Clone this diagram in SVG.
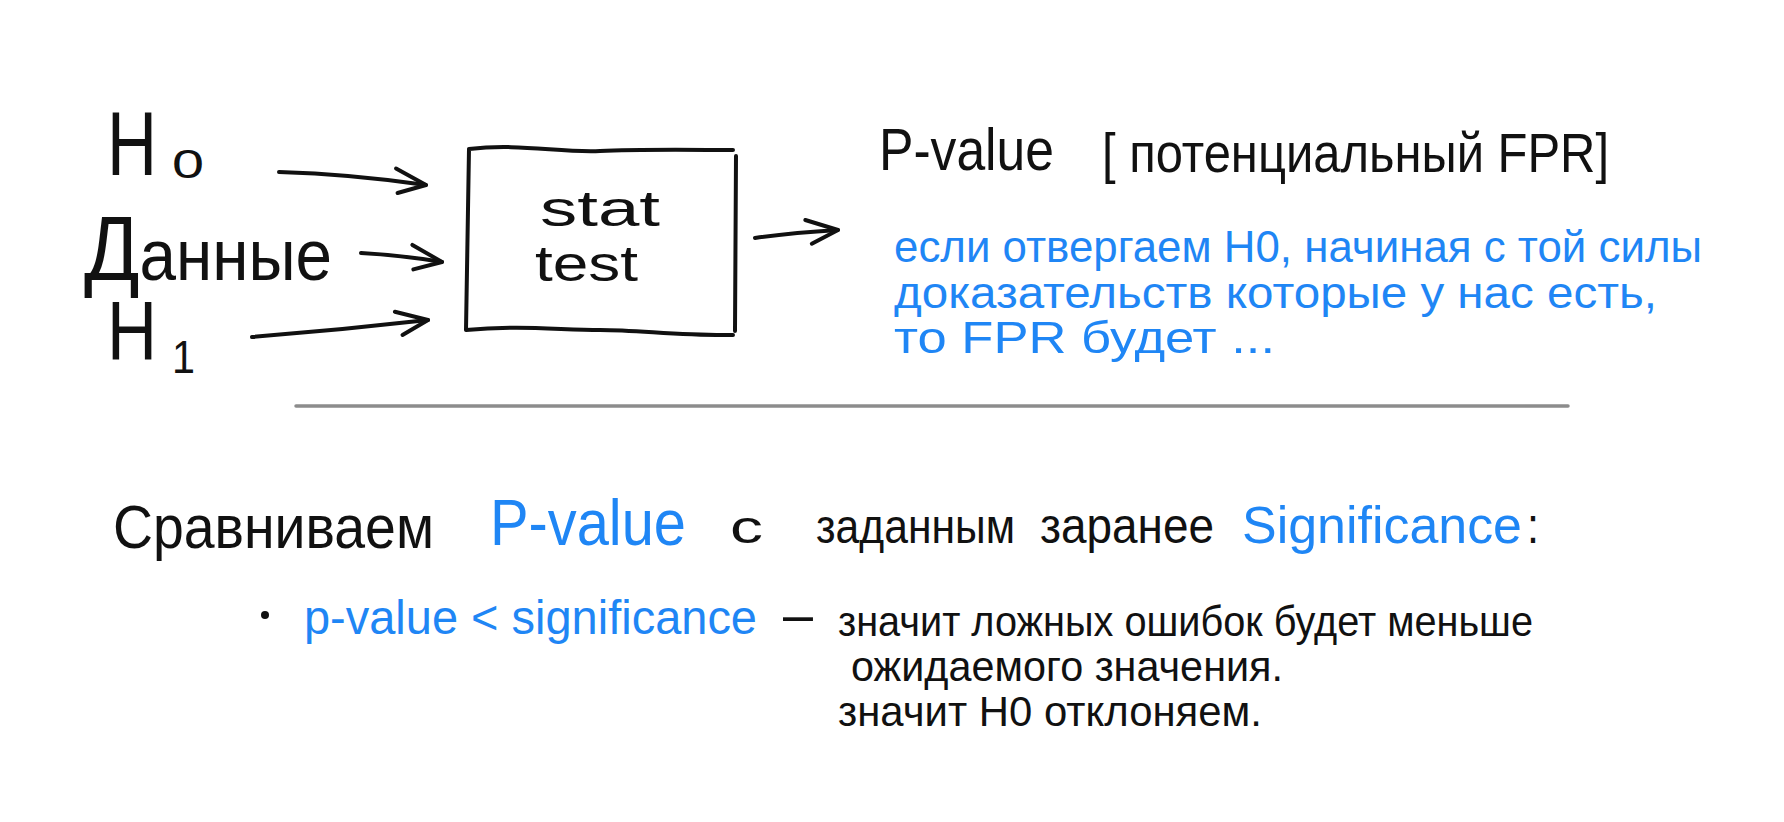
<svg xmlns="http://www.w3.org/2000/svg" width="1784" height="822" viewBox="0 0 1784 822">
<defs>
<style>
text{font-family:"Liberation Sans",Arial,sans-serif;}
.k{fill:#111;}
.b{fill:#1f86f5;}
.ln{fill:none;stroke:#111;stroke-width:4;stroke-linecap:round;stroke-linejoin:round;}
</style>
<marker id="ah" markerUnits="userSpaceOnUse" viewBox="-36 -18 40 36" refX="0" refY="0" markerWidth="40" markerHeight="36" orient="auto">
<path d="M-32,-12 L0,0 L-27,12" fill="none" stroke="#111" stroke-width="4" stroke-linecap="round" stroke-linejoin="round"/>
</marker>
</defs>
<rect width="1784" height="822" fill="#fff"/>

<g id="h0">
<text class="k" x="107" y="175" font-size="90" textLength="50" lengthAdjust="spacingAndGlyphs">H</text>
<text class="k" x="172" y="178" font-size="40" textLength="32" lengthAdjust="spacingAndGlyphs">0</text>
</g>
<g id="data">
<text class="k" x="84" y="280" font-size="72" textLength="248" lengthAdjust="spacingAndGlyphs"><tspan font-size="90">Д</tspan>анные</text>
</g>
<g id="h1">
<text class="k" x="107" y="360" font-size="84" textLength="50" lengthAdjust="spacingAndGlyphs">H</text>
<text class="k" x="172" y="373" font-size="46" textLength="23" lengthAdjust="spacingAndGlyphs">1</text>
</g>

<g id="stattest">
<path class="ln" d="M469,149 C520,143 560,153 600,151 S700,150 733,150 M736,156 L735,331 M733,335 C680,336 640,330 600,330 S520,325 466,330 L469,149"/>
<text class="k" x="540" y="226" font-size="50" textLength="120" lengthAdjust="spacingAndGlyphs">stat</text>
<text class="k" x="535" y="281" font-size="50" textLength="103" lengthAdjust="spacingAndGlyphs">test</text>
</g>

<g id="pvalue">
<text class="k" x="879" y="170" font-size="60" textLength="175" lengthAdjust="spacingAndGlyphs">P-value</text>
<text class="k" x="1102" y="172" font-size="56" textLength="507" lengthAdjust="spacingAndGlyphs">[ потенциальный FPR]</text>
</g>

<g id="note">
<text class="b" x="894" y="262" font-size="44" textLength="808" lengthAdjust="spacingAndGlyphs">если отвергаем H0, начиная с той силы</text>
<text class="b" x="894" y="308" font-size="44" textLength="763" lengthAdjust="spacingAndGlyphs">доказательств которые у нас есть,</text>
<text class="b" x="894" y="353" font-size="44" textLength="381" lengthAdjust="spacingAndGlyphs">то FPR будет ...</text>
</g>

<g id="connectors">
<path class="ln" d="M279,172 Q350,174 426,185" marker-end="url(#ah)"/>
<path class="ln" d="M361,253 Q400,255 442,262" marker-end="url(#ah)"/>
<path class="ln" d="M252,337 Q340,330 428,320" marker-end="url(#ah)"/>
<path class="ln" d="M755,238 Q790,233 838,230" marker-end="url(#ah)"/>
</g>

<g id="separator">
<line x1="296" y1="406" x2="1568" y2="406" stroke="#8c8c8c" stroke-width="3.5" stroke-linecap="round"/>
</g>

<g id="compare">
<text class="k" x="113" y="548" font-size="62" textLength="321" lengthAdjust="spacingAndGlyphs">Сравниваем</text>
<text class="b" x="490" y="545" font-size="65" textLength="196" lengthAdjust="spacingAndGlyphs">P-value</text>
<text class="k" x="730" y="543" font-size="46" textLength="33" lengthAdjust="spacingAndGlyphs">с</text>
<text class="k" x="816" y="543" font-size="48" textLength="199" lengthAdjust="spacingAndGlyphs">заданным</text>
<text class="k" x="1040" y="543" font-size="50" textLength="174" lengthAdjust="spacingAndGlyphs">заранее</text>
<text class="b" x="1242" y="543" font-size="52" textLength="280" lengthAdjust="spacingAndGlyphs">Significance</text>
<text class="k" x="1527" y="543" font-size="52" textLength="12" lengthAdjust="spacingAndGlyphs">:</text>
</g>

<g id="bullet">
<circle cx="265" cy="615" r="4" fill="#111"/>
<text class="b" x="304" y="634" font-size="49" textLength="453" lengthAdjust="spacingAndGlyphs">p-value &lt; significance</text>
<text class="k" x="783" y="633" font-size="56" textLength="30" lengthAdjust="spacingAndGlyphs">–</text>
<text class="k" x="838" y="636" font-size="43" textLength="695" lengthAdjust="spacingAndGlyphs">значит ложных ошибок будет меньше</text>
<text class="k" x="851" y="681" font-size="43" textLength="432" lengthAdjust="spacingAndGlyphs">ожидаемого значения.</text>
<text class="k" x="838" y="726" font-size="43" textLength="424" lengthAdjust="spacingAndGlyphs">значит H0 отклоняем.</text>
</g>
</svg>
